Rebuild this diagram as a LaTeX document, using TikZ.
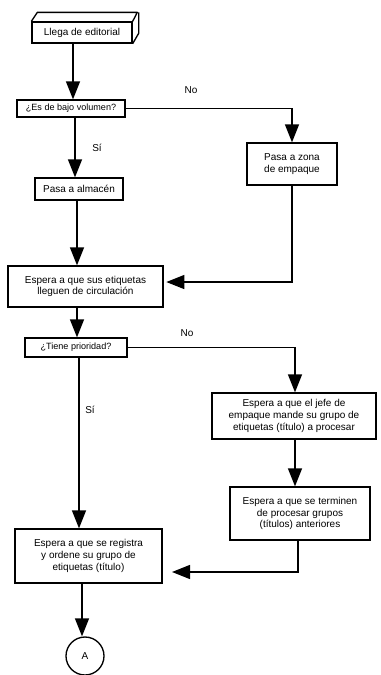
\documentclass[tikz,border=0pt]{standalone}
\usepackage{fontspec}
\setmainfont{Liberation Sans}
\usetikzlibrary{arrows.meta}

\begin{document}
\begin{tikzpicture}[x=0.75pt,y=-0.75pt,
  every node/.style={font=\fontsize{7.5}{8.8}\selectfont},
  box/.style={draw,line width=1pt,inner sep=0pt,align=center},
  small/.style={font=\fontsize{6.8}{8.8}\selectfont},
  arr/.style={line width=1pt,-{Triangle[length=13.5pt,width=10.5pt]}},
  lbl/.style={inner sep=0pt}]

\useasboundingbox (0,0) rectangle (380,675);

% column guides for the vertical flow lines
\coordinate (c1) at (73,0);
\coordinate (c2) at (75,0);
\coordinate (c3) at (77,0);
\coordinate (c4) at (79,0);
\coordinate (c5) at (82,0);
\coordinate (r1) at (292,0);
\coordinate (r2) at (295,0);
\coordinate (r3) at (298,0);
\coordinate (h1) at (0,282);
\coordinate (h2) at (0,572);

% start block drawn as a solid box
\node[box,minimum width=75pt,minimum height=15.75pt] (b1) at (82,32.5) {Llega de editorial};
\draw[line width=1pt,line join=round]
  (b1.north west) -- ++(6,-9) -- ++(100,0) -- (b1.north east)
  (b1.north east) ++(6,-9) -- ++(0,21) -- (b1.south east);

\node[box,small,minimum width=81pt,minimum height=12.75pt] (b2) at (71,108.5) {¿Es de bajo volumen?};
\node[box,minimum width=66pt,minimum height=16.5pt] (b3) at (79,189) {Pasa a almacén};
\node[box,minimum width=67.5pt,minimum height=31.5pt] (z1) at (292,164) {Pasa a zona\\de empaque};
\node[box,minimum width=116.25pt,minimum height=30.75pt] (b4) at (85.5,286.5) {Espera a que sus etiquetas\\lleguen de circulación};
\node[box,small,minimum width=76.5pt,minimum height=14.25pt] (b5) at (76,347.5) {¿Tiene prioridad?};
\node[box,minimum width=123pt,minimum height=34.5pt] (j1) at (294,416) {Espera a que el jefe de\\empaque mande su grupo de\\etiquetas (título) a procesar};
\node[box,minimum width=105pt,minimum height=39.75pt] (t1) at (300,513.5) {Espera a que se terminen\\de procesar grupos\\(títulos) anteriores};
\node[box,minimum width=110.25pt,minimum height=40.5pt] (b6) at (88.5,556) {Espera a que se registra\\y ordene su grupo de\\etiquetas (título)};
\node[draw,circle,line width=1pt,minimum size=28.5pt,inner sep=0pt] (A) at (85,656) {A};

% main column
\draw[arr] (b1.south -| c1) -- (b2.north -| c1);
\draw[arr] (b2.south -| c2) -- (b3.north -| c2);
\draw[arr] (b3.south -| c3) -- (b4.north -| c3);
\draw[arr] (b4.south -| c3) -- (b5.north -| c3);
\draw[arr] (b5.south -| c4) -- (b6.north -| c4);
\draw[arr] (b6.south -| c5) -- (A.north -| c5);

% side branches
\draw[arr] (b2.east) -| (z1.north);
\draw[arr] (z1.south -| r1) -- (h1 -| r1) -- ([xshift=2pt]h1 -| b4.east);
\draw[arr] (b5.east) -| (j1.north -| r2);
\draw[arr] (j1.south -| r2) -- (t1.north -| r2);
\draw[arr] (t1.south -| r3) -- (h2 -| r3) -- ([xshift=7pt]h2 -| b6.east);

% branch labels
\node[lbl] (no1) at (191,90) {No};
\node[lbl] (si1) at (97,148) {Sí};
\node[lbl] (no2) at (187,333) {No};
\node[lbl] (si2) at (90,410) {Sí};

\end{tikzpicture}
\end{document}
